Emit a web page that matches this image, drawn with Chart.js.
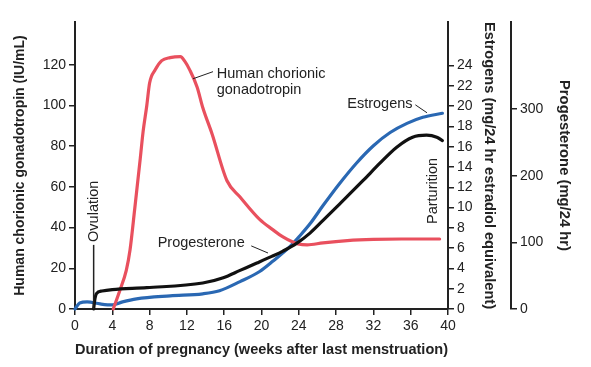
<!DOCTYPE html>
<html>
<head>
<meta charset="utf-8">
<script src="https://cdn.jsdelivr.net/npm/chart.js@4/dist/chart.umd.min.js"></script>
<style>
  html, body { margin: 0; padding: 0; background: #fff; }
</style>
</head>
<body>
<canvas id="myChart" width="591" height="367"></canvas>
<script>
// hCG, IU/mL (left axis)
var hcgWeeks = [4.1, 4.8, 5.5, 5.9, 6.4, 7.0, 7.3, 7.7, 8.0, 8.6, 9.3, 10.2, 11.3, 11.8, 12.3, 13.1, 13.7, 14.7, 16.3, 17.7, 19.8, 21.2, 22.3, 23.3, 23.9, 24.9, 26.6, 29.2, 32.0, 35.0, 39.1];
var hcgValues = [0, 9, 19, 29, 49, 74, 87, 100, 111, 117.5, 122, 123.5, 124, 121.5, 117.5, 109, 99, 86, 63, 55, 44, 39, 35.4, 33, 32, 31.5, 32.5, 33.6, 34.2, 34.4, 34.4];

// estrogens, mg/24 hr estradiol equivalent (inner right axis)
var estWeeks = [0, 0.5, 1.3, 2.7, 4.0, 5.1, 6.6, 10.2, 13.7, 15.5, 17.7, 19.8, 21.2, 23.1, 24.1, 25.2, 26.6, 28.4, 30.2, 32.0, 33.8, 35.6, 37.3, 39.4];
var estValues = [0, 0.6, 0.7, 0.5, 0.4, 0.7, 1.0, 1.3, 1.5, 1.8, 2.7, 3.7, 4.7, 6.2, 7.2, 8.4, 10.2, 12.4, 14.4, 16.1, 17.4, 18.3, 18.9, 19.3];

// progesterone, mg/24 hr (outer right axis)
var progWeeks = [2.0, 2.1, 2.3, 2.9, 4.0, 7.7, 13.7, 15.9, 17.7, 19.5, 21.1, 22.3, 23.8, 25.2, 26.6, 28.4, 30.9, 32.7, 34.5, 36.2, 37.7, 38.8, 39.4];
var progValues = [0, 12, 23, 27, 29, 32, 39, 47, 58, 69, 79, 87, 99, 114, 133, 158, 193, 219, 243, 258, 261, 258, 253];

var weekTicks = [0, 4, 8, 12, 16, 20, 24, 28, 32, 36, 40];
var hcgTicks = [0, 20, 40, 60, 80, 100, 120];
var estTicks = [0, 2, 4, 6, 8, 10, 12, 14, 16, 18, 20, 22, 24];
var progTicks = [0, 100, 200, 300];

function pairs(xs, ys) {
    return xs.map(function (w, i) { return { x: w, y: ys[i] }; });
}
function useTicks(list) {
    return function (scale) {
        scale.ticks = list.map(function (v) { return { value: v }; });
    };
}

var ink = '#222';
Chart.defaults.font.family = '"Liberation Sans", Arial, sans-serif';
Chart.defaults.color = ink;

function axis(extra) {
    var base = {
        grid: { drawOnChartArea: false, drawTicks: true, tickLength: 6, color: ink, lineWidth: 1.5 },
        border: { display: true, color: ink, width: 2 },
        ticks: { color: ink, font: { size: 14 }, padding: 3 }
    };
    return Object.assign(base, extra);
}

// text notes and leader lines, placed in data units
var notes = {
    id: 'notes',
    afterDatasetsDraw: function (chart) {
        var ctx = chart.ctx;
        var sx = chart.scales.x, sy = chart.scales.y;
        function px(w) { return sx.getPixelForValue(w); }
        function py(v) { return sy.getPixelForValue(v); }
        function line(w1, v1, w2, v2, width) {
            ctx.lineWidth = width;
            ctx.beginPath();
            ctx.moveTo(px(w1), py(v1));
            ctx.lineTo(px(w2), py(v2));
            ctx.stroke();
        }
        function upright(text, w, v) {
            ctx.save();
            ctx.translate(px(w), py(v));
            ctx.rotate(-Math.PI / 2);
            ctx.textAlign = 'center';
            ctx.textBaseline = 'middle';
            ctx.fillText(text, 0, 0);
            ctx.restore();
        }
        ctx.save();
        ctx.fillStyle = ink;
        ctx.strokeStyle = ink;
        ctx.font = '14.5px "Liberation Sans", Arial, sans-serif';
        ctx.textBaseline = 'middle';

        line(2, 0, 2, 31.5, 1.5);
        upright('Ovulation', 2, 48);
        upright('Parturition', 38.4, 58);

        ctx.textAlign = 'left';
        ctx.fillText('Human chorionic', px(15.2), py(115.6));
        ctx.fillText('gonadotropin', px(15.2), py(107.7));
        line(12.65, 113.1, 14.8, 116.6, 1);

        ctx.textAlign = 'right';
        ctx.fillText('Estrogens', px(36.2), py(100.8));
        line(36.5, 100.3, 37.75, 96.4, 1);

        ctx.fillText('Progesterone', px(18.2), py(32.5));
        line(18.9, 31, 20.7, 27.5, 1);
        ctx.restore();
    }
};

var ctx = document.getElementById('myChart').getContext('2d');
new Chart(ctx, {
    type: 'line',
    data: {
        datasets: [{
            label: 'Progesterone',
            data: pairs(progWeeks, progValues),
            yAxisID: 'yP',
            borderColor: '#111',
            borderWidth: 3.2
        }, {
            label: 'Human chorionic gonadotropin',
            data: pairs(hcgWeeks, hcgValues),
            yAxisID: 'y',
            borderColor: '#e9505e',
            borderWidth: 3.2
        }, {
            label: 'Estrogens',
            data: pairs(estWeeks, estValues),
            yAxisID: 'yE',
            borderColor: '#2a68b3',
            borderWidth: 3.2
        }]
    },
    options: {
        responsive: false,
        animation: false,
        devicePixelRatio: 1,
        layout: { padding: { top: 22, left: 0, right: 0, bottom: 0 } },
        elements: {
            point: { radius: 0 },
            line: { cubicInterpolationMode: 'monotone', fill: false, borderCapStyle: 'round' }
        },
        datasets: { line: { clip: 8 } },
        plugins: { legend: { display: false }, tooltip: { enabled: false } },
        scales: {
            x: axis({
                type: 'linear', position: 'bottom', min: 0, max: 40,
                afterBuildTicks: useTicks(weekTicks),
                afterFit: function (s) { s.height = 58; },
                title: {
                    display: true, color: ink,
                    text: 'Duration of pregnancy (weeks after last menstruation)',
                    font: { size: 14.8, weight: 'bold' },
                    padding: { top: 0, bottom: 8 }
                }
            }),
            y: axis({
                type: 'linear', position: 'left', min: 0, max: 141,
                afterBuildTicks: useTicks(hcgTicks),
                afterFit: function (s) { s.width = 75; },
                title: {
                    display: true, color: ink,
                    text: 'Human chorionic gonadotropin (IU/mL)',
                    font: { size: 14, weight: 'bold' },
                    padding: { top: 12, bottom: 0 }
                }
            }),
            yE: axis({
                type: 'linear', position: 'right', min: 0, max: 28.3,
                afterBuildTicks: useTicks(estTicks),
                afterFit: function (s) { s.width = 63; },
                title: {
                    display: true, color: ink,
                    text: 'Estrogens (mg/24 hr estradiol equivalent)',
                    font: { size: 14.6, weight: 'bold' },
                    padding: { top: 13, bottom: 0 }
                }
            }),
            yP: axis({
                type: 'linear', position: 'right', min: 0, max: 431,
                afterBuildTicks: useTicks(progTicks),
                afterFit: function (s) { s.width = 80; },
                title: {
                    display: true, color: ink,
                    text: 'Progesterone (mg/24 hr)',
                    font: { size: 14.8, weight: 'bold' },
                    padding: { top: 18, bottom: 0 }
                }
            })
        }
    },
    plugins: [notes]
});
</script>
</body>
</html>
